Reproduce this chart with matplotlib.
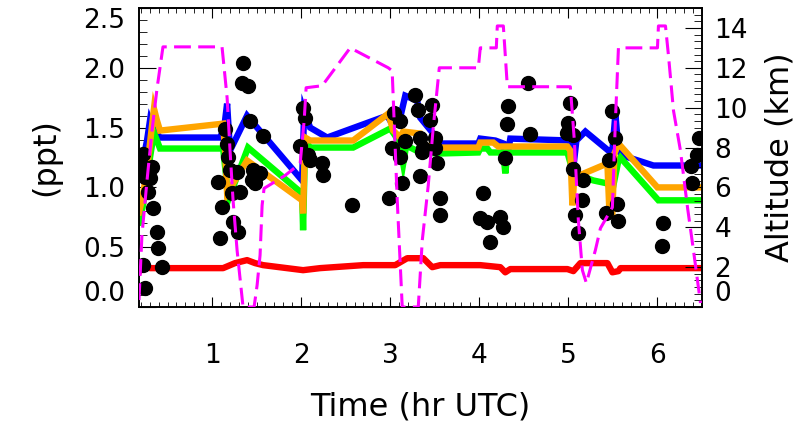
import numpy as np
import matplotlib
matplotlib.use("Agg")
import matplotlib.pyplot as plt
from matplotlib.ticker import MultipleLocator, AutoMinorLocator

plt.rcParams['font.family'] = ['DejaVu Sans']

# ---- data (time in hr UTC, mixing ratios in ppt, altitude in km) ----
blue_t = [0.18, 0.225, 0.27, 0.303, 0.337, 0.416, 1.09, 1.135, 1.169, 1.202, 1.393, 1.506,
          2.011, 2.034, 2.101, 2.292, 2.966, 3.034, 3.112, 3.169, 3.303, 3.337, 3.483, 3.539,
          3.989, 4.011, 4.18, 4.27, 4.292, 4.348, 5.022, 5.056, 5.09, 5.191, 5.449, 5.494,
          5.528, 5.562, 5.607, 5.955, 6.483]
blue_v = [1.125, 1.225, 1.392, 1.558, 1.492, 1.417, 1.417, 1.492, 1.70, 1.308, 1.60, 1.50,
          1.058, 1.642, 1.50, 1.417, 1.60, 1.517, 1.583, 1.767, 1.725, 1.583, 1.45, 1.367,
          1.367, 1.408, 1.392, 1.367, 1.167, 1.408, 1.392, 1.167, 1.392, 1.467, 1.308, 1.308,
          1.617, 1.308, 1.267, 1.183, 1.183]

orange_t = [0.18, 0.225, 0.281, 0.348, 0.382, 0.416, 1.124, 1.146, 1.169, 1.393, 2.011, 2.022,
            2.045, 2.101, 2.584, 2.978, 3.034, 3.112, 3.146, 3.337, 3.393, 3.539, 3.989, 4.011,
            4.157, 4.213, 4.989, 5.022, 5.045, 5.067, 5.438, 5.461, 5.494, 5.517, 5.562, 6.0,
            6.483]
orange_v = [0.792, 0.933, 1.225, 1.658, 1.558, 1.475, 1.533, 1.308, 0.95, 1.225, 0.892, 0.783,
            1.417, 1.392, 1.392, 1.617, 1.475, 1.417, 1.467, 1.45, 1.35, 1.333, 1.333, 1.375,
            1.375, 1.342, 1.342, 1.308, 0.85, 1.083, 1.20, 0.783, 0.783, 1.283, 1.367, 1.0,
            1.0]

green_t = [0.18, 0.225, 0.281, 0.348, 0.382, 0.416, 1.124, 1.157, 1.18, 1.404, 2.011, 2.022,
           2.045, 2.101, 2.584, 3.0, 3.056, 3.112, 3.146, 3.18, 3.337, 3.528, 3.989, 4.011,
           4.09, 4.124, 4.27, 4.292, 4.315, 4.989, 5.056, 5.281, 5.438, 5.494, 5.562, 5.584,
           6.011, 6.483]
green_v = [0.708, 0.85, 1.142, 1.458, 1.392, 1.325, 1.325, 1.10, 0.892, 1.333, 0.95, 0.642,
           1.392, 1.333, 1.333, 1.492, 1.433, 1.35, 1.20, 1.35, 1.292, 1.283, 1.292, 1.325,
           1.325, 1.292, 1.292, 1.117, 1.292, 1.292, 1.117, 1.058, 1.033, 0.975, 1.225, 1.25,
           0.892, 0.892]

red_t = [0.18, 0.247, 0.303, 1.124, 1.258, 1.393, 1.483, 1.573, 2.022, 2.213, 2.697, 3.056,
         3.191, 3.371, 3.472, 3.562, 4.011, 4.236, 4.292, 4.348, 4.989, 5.056, 5.135, 5.438,
         5.494, 5.562, 5.584, 6.483]
red_v = [0.292, 0.367, 0.325, 0.325, 0.367, 0.392, 0.367, 0.35, 0.308, 0.325, 0.35, 0.35,
         0.408, 0.408, 0.333, 0.35, 0.35, 0.333, 0.29, 0.317, 0.317, 0.30, 0.367, 0.367,
         0.29, 0.30, 0.325, 0.325]

obs_t = [0.225, 0.213, 0.247, 0.326, 0.303, 0.281, 0.337, 0.382, 0.393, 0.438, 0.225, 0.247,
         1.067, 1.112, 1.09, 1.146, 1.169, 1.18, 1.202, 1.281, 1.315, 1.225, 1.236, 1.292,
         1.348, 1.337, 1.404, 1.427, 1.461, 1.506, 1.483, 1.539, 1.573, 1.449,
         2.022, 2.045, 1.989, 2.079, 2.101, 2.236, 2.247, 2.573,
         2.989, 3.045, 3.112, 3.022, 3.112, 3.169, 3.135, 3.281, 3.315, 3.472, 3.449, 3.337,
         3.371, 3.36, 3.506, 3.506, 3.528, 3.337, 3.562, 3.562,
         4.045, 4.011, 4.09, 4.236, 4.27, 4.124, 4.326, 4.315, 4.292, 4.573, 4.551,
         5.022, 5.0, 4.989, 5.056, 5.056, 5.169, 5.157, 5.079, 5.112, 5.494, 5.528, 5.461,
         5.551, 5.427, 5.562,
         6.067, 6.056, 6.371, 6.393, 6.449, 6.461]
obs_v = [1.283, 1.183, 1.083, 1.167, 1.075, 0.958, 0.825, 0.625, 0.492, 0.333, 0.35, 0.158,
         1.042, 0.833, 0.575, 1.492, 1.367, 1.25, 1.142, 1.125, 0.958, 0.95, 0.708, 0.625,
         2.042, 1.875, 1.85, 1.558, 1.142, 1.1, 1.033, 1.117, 1.433, 1.058,
         1.667, 1.583, 1.35, 1.267, 1.225, 1.2, 1.1, 0.85,
         0.912, 1.625, 1.558, 1.333, 1.25, 1.392, 1.033, 1.775, 1.65, 1.692, 1.567, 1.417,
         1.333, 1.292, 1.417, 1.333, 1.2, 1.092, 0.908, 0.767,
         0.95, 0.742, 0.708, 0.75, 0.667, 0.542, 1.683, 1.533, 1.242, 1.45, 1.875,
         1.708, 1.542, 1.458, 1.442, 1.15, 1.058, 0.892, 0.767, 0.617, 1.642, 1.417, 1.225,
         0.858, 0.783, 0.717,
         0.70, 0.508, 1.183, 1.033, 1.267, 1.417]

alt_t = [0.18, 0.213, 0.27, 0.326, 0.382, 0.449, 1.112, 1.169, 1.202, 1.236, 1.281, 1.348,
         1.472, 1.506, 1.539, 1.562, 1.584, 1.82, 1.989, 2.034, 2.056, 2.236, 2.551, 2.978,
         3.022, 3.079, 3.135, 3.315, 3.36, 3.427, 3.483, 3.551, 3.989, 4.011, 4.191, 4.202,
         4.27, 4.315, 5.022, 5.067, 5.112, 5.157, 5.202, 5.303, 5.36, 5.494, 5.528, 5.562,
         6.0, 6.011, 6.09, 6.124, 6.18, 6.258, 6.337, 6.404, 6.483]
alt_km = [0.35, 3.6, 6.35, 8.85, 10.95, 13.05, 13.05, 10.5, 7.85, 5.35, 2.85, 0.0,
          0.0, 1.1, 2.6, 5.1, 5.95, 6.6, 7.2, 9.35, 11.0, 11.1, 13.0, 12.0,
          11.85, 5.35, 0.0, 0.0, 3.35, 6.1, 9.0, 12.0, 12.0, 13.0, 13.0, 14.1,
          14.1, 11.05, 11.05, 8.35, 4.35, 1.85, 1.2, 2.85, 3.95, 5.0, 9.35, 13.0,
          13.0, 14.1, 14.1, 12.6, 9.85, 7.85, 5.0, 2.85, 0.2]

fig = plt.figure(figsize=(8.04, 4.36), dpi=100)
ax = fig.add_axes([139/804, 1-307/436, 563/804, 299/436])

lw = 4.6
ax.plot(blue_t, blue_v, color='#0000FF', lw=lw, solid_joinstyle='miter', zorder=2)
ax.plot(green_t, green_v, color='#00FF00', lw=lw, solid_joinstyle='miter', zorder=2)
ax.plot(orange_t, orange_v, color='#FFA500', lw=lw, solid_joinstyle='miter', zorder=2)
ax.plot(red_t, red_v, color='#FF0000', lw=lw, zorder=2)
ax.plot(obs_t, obs_v, 'o', color='black', ms=10, zorder=3)

tick_fs = 19
lab_fs = 23

ax.set_xlim(0.18, 6.5)
ax.set_ylim(0, 2.5)
ax.xaxis.set_major_locator(MultipleLocator(1))
ax.xaxis.set_minor_locator(MultipleLocator(0.1))
ax.yaxis.set_major_locator(MultipleLocator(0.5))
ax.yaxis.set_minor_locator(MultipleLocator(0.1))
ax.tick_params(axis='x', which='both', direction='in', top=True, labelsize=tick_fs, pad=26)
ax.tick_params(axis='x', which='major', length=7)
ax.tick_params(axis='x', which='minor', length=3.5)
ax.tick_params(axis='y', which='both', direction='in', right=False, labelsize=tick_fs, pad=10)
ax.tick_params(axis='y', which='major', length=12)
ax.tick_params(axis='y', which='minor', length=6)
ax.set_yticks([0, 0.5, 1.0, 1.5, 2.0, 2.5])
ax.set_yticklabels(['0.0', '0.5', '1.0', '1.5', '2.0', '2.5'])
ylabs = ax.get_yticklabels()
ylabs[0].set_va('bottom')
ylabs[-1].set_va('top')
ax.set_xlabel('Time (hr UTC)', fontsize=lab_fs, labelpad=16)
ax.set_ylabel('(ppt)', fontsize=lab_fs, labelpad=16)

ax2 = ax.twinx()
ax2.plot(alt_t, alt_km, color='#FF00FF', lw=2.2, dashes=(5.5, 2.4), zorder=4)
ax2.set_ylim(0, 15)
ax2.set_yticks([0, 2, 4, 6, 8, 10, 12, 14])
ax2.yaxis.set_minor_locator(AutoMinorLocator(6))
ax2.tick_params(axis='y', which='both', direction='in', labelsize=tick_fs, pad=9)
ax2.tick_params(axis='y', which='major', length=12)
ax2.tick_params(axis='y', which='minor', length=6)
rlabs = ax2.get_yticklabels()
rlabs[0].set_va('bottom')
ax2.set_ylabel('Altitude (km)', fontsize=lab_fs, labelpad=12)

for a in (ax, ax2):
    for s in a.spines.values():
        s.set_linewidth(1.2)

fig.savefig('out.png', dpi=100)
